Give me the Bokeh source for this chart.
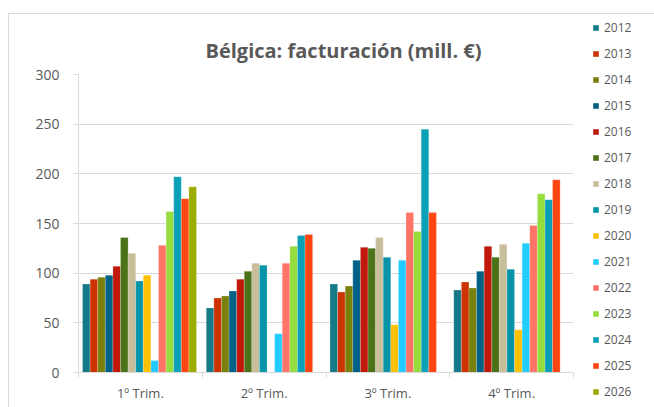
from bokeh.plotting import figure
from bokeh.layouts import row
from bokeh.models import (ColumnDataSource, FixedTicker, Legend, LegendItem, Range1d)
from bokeh.embed import file_html
from bokeh.resources import INLINE

quarters = ["1º Trim.", "2º Trim.", "3º Trim.", "4º Trim."]
years = ["2012", "2013", "2014", "2015", "2016", "2017", "2018", "2019",
         "2020", "2021", "2022", "2023", "2024", "2025", "2026"]
colors = ["#147A87", "#CC3300", "#7B7F0C", "#006186", "#C0190B", "#4B7219",
          "#C8BE9A", "#0794A8", "#FFC000", "#22CCFF", "#FF7466", "#95DD3C",
          "#0BA0B5", "#FF4612", "#9CAC00"]

# values per year: [Q1, Q2, Q3, Q4]  (None = no bar)
v2012 = [89, 65, 89, 83]
v2013 = [94, 75, 81, 91]
v2014 = [96, 77, 87, 85]
v2015 = [98, 82, 113, 102]
v2016 = [107, 94, 126, 127]
v2017 = [136, 102, 125, 116]
v2018 = [120, 110, 136, 129]
v2019 = [92, 108, 116, 104]
v2020 = [98, None, 48, 43]
v2021 = [12, 39, 113, 130]
v2022 = [128, 110, 161, 148]
v2023 = [162, 127, 142, 180]
v2024 = [197, 138, 245, 174]
v2025 = [175, 139, 161, 194]
v2026 = [187, None, None, None]
series = [v2012, v2013, v2014, v2015, v2016, v2017, v2018, v2019,
          v2020, v2021, v2022, v2023, v2024, v2025, v2026]

yticks = [0, 50, 100, 150, 200, 250, 300]

GRAY = "#595959"
LINE = "#D9D9D9"
FONT = "Open Sans"

H = 393
p = figure(width=574, height=H, output_backend="svg", toolbar_location=None,
           x_range=Range1d(0, len(quarters)), y_range=Range1d(0, 300),
           min_border_left=69, min_border_right=10, min_border_top=60,
           min_border_bottom=35, tools="")
p.frame_align = False
p.outline_line_color = None
p.background_fill_color = "white"
p.border_fill_color = "white"

p.title.text = "Bélgica: facturación (mill. €)"
p.title.text_font = FONT
p.title.text_font_size = "20px"
p.title.text_font_style = "bold"
p.title.text_color = GRAY
p.title.align = "left"
p.title.offset = 127
p.title.standoff = 22

nser = len(years)
bw = 0.0614
for j, (yr, vals, col) in enumerate(zip(years, series, colors)):
    xs, tops = [], []
    for i, v in enumerate(vals):
        if v is None:
            continue
        xs.append(i + 0.493 + (j - (nser - 1) / 2) * bw)
        tops.append(v)
    src = ColumnDataSource(dict(x=xs, top=tops))
    p.vbar(x="x", top="top", width=bw, bottom=0, source=src,
           fill_color=col, line_color="white", line_alpha=0.35, line_width=0.6)

# axes
p.xaxis.ticker = FixedTicker(ticks=[i + 0.5 for i in range(len(quarters))],
                             minor_ticks=list(range(len(quarters) + 1)))
p.xaxis.major_label_overrides = {i + 0.5: q for i, q in enumerate(quarters)}
p.xaxis.major_tick_line_color = None
p.xaxis.major_tick_out = 0
p.xaxis.major_tick_in = 0
p.xaxis.minor_tick_line_color = LINE
p.xaxis.minor_tick_out = 5
p.xaxis.minor_tick_in = 0
p.xaxis.axis_line_color = LINE
p.xaxis.major_label_text_font = FONT
p.xaxis.major_label_text_font_size = "13px"
p.xaxis.major_label_text_color = GRAY
p.xaxis.major_label_standoff = 6

p.yaxis.ticker = FixedTicker(ticks=yticks)
p.yaxis.axis_line_color = LINE
p.yaxis.major_tick_line_color = LINE
p.yaxis.major_tick_out = 5
p.yaxis.major_tick_in = 0
p.yaxis.minor_tick_line_color = None
p.yaxis.major_label_text_font = FONT
p.yaxis.major_label_text_font_size = "14px"
p.yaxis.major_label_text_color = GRAY
p.yaxis.major_label_standoff = 14

p.xgrid.grid_line_color = None
p.ygrid.grid_line_color = LINE
p.ygrid.grid_line_width = 1

# legend in its own narrow figure to the right (frame spans the whole figure)
lf = figure(width=71, height=H, output_backend="svg", toolbar_location=None,
            x_range=Range1d(0, 1), y_range=Range1d(0, 1), tools="",
            x_axis_location=None, y_axis_location=None,
            min_border_left=0, min_border_right=0, min_border_top=0,
            min_border_bottom=0)
lf.frame_align = False
lf.grid.visible = False
lf.outline_line_color = None
lf.background_fill_color = "white"
lf.border_fill_color = "white"

items = []
for yr, col in zip(years, colors):
    # zero-height swatch carrier (draws nothing itself)
    r = lf.vbar(x=[0.5], top=[0], bottom=[0], width=0.1, fill_color=col, line_color=None)
    items.append(LegendItem(label=yr, renderers=[r]))

legend = Legend(items=items, location=(9, 6), orientation="vertical",
                glyph_width=7, glyph_height=7, label_height=20, spacing=6,
                label_standoff=5, padding=0, margin=0,
                label_text_font=FONT, label_text_font_size="12px",
                label_text_color=GRAY, border_line_color=None,
                background_fill_alpha=0)
lf.add_layout(legend, "center")

layout = row(p, lf, spacing=0)
layout.margin = (13, 0, 0, 8)
layout.styles = {"border-top": "1px solid #D9D9D9", "border-left": "1px solid #D9D9D9"}
open("out.html", "w").write(file_html(layout, INLINE))
